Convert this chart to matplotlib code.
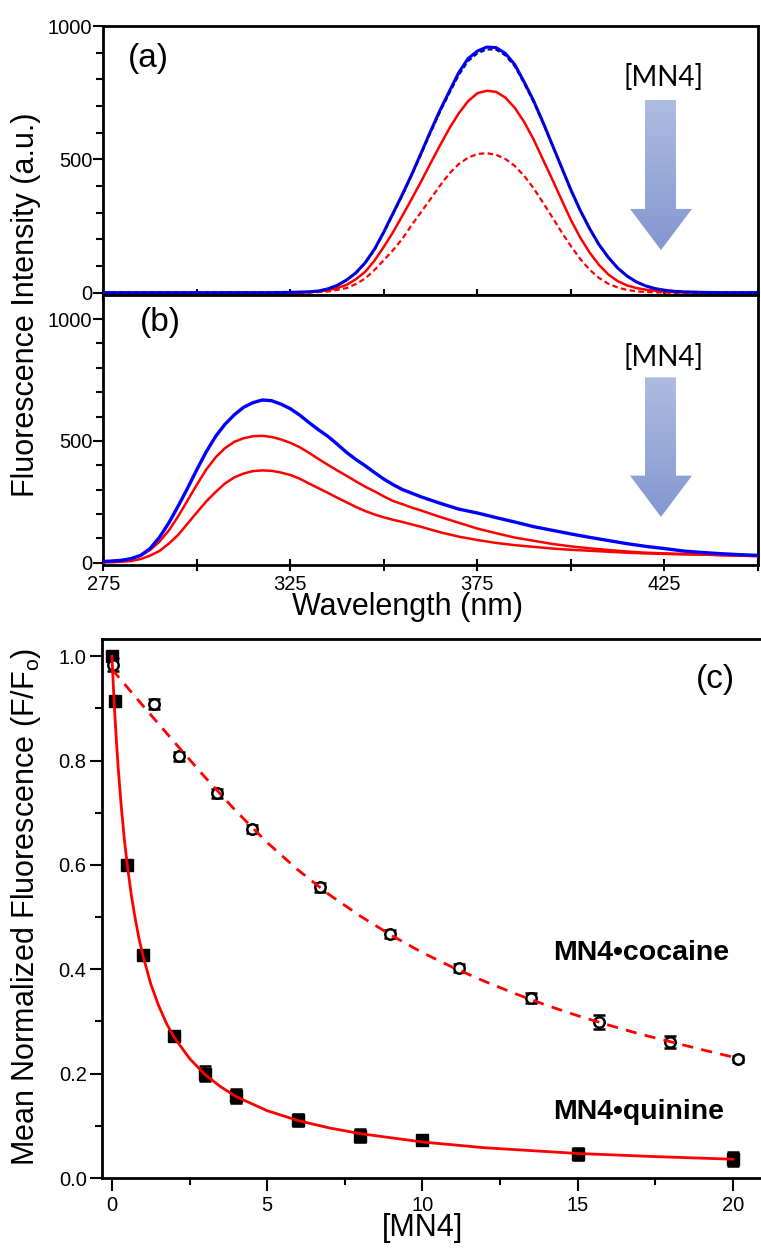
import numpy as np
import matplotlib
matplotlib.use("Agg")
import matplotlib.pyplot as plt
from matplotlib.patches import Polygon
from matplotlib.ticker import MultipleLocator, FixedLocator, NullFormatter

plt.rcParams["font.family"] = ["Liberation Sans", "DejaVu Sans"]
plt.rcParams["mathtext.fontset"] = "custom"
plt.rcParams["mathtext.rm"] = "Liberation Sans"

# (a) quinine emission spectra
wl_a = [275, 300, 320, 325, 327.5, 330, 332.5, 335, 337.5, 340, 342.5, 345, 347.5,
        350, 352.5, 355, 357.5, 360, 362.5, 365, 367.5, 370, 372.5, 375, 377.5, 380,
        382.5, 385, 387.5, 390, 392.5, 395, 397.5, 400, 402.5, 405, 407.5, 410,
        412.5, 415, 417.5, 420, 422.5, 425, 427.5, 430, 435, 440, 450]
quinine_free = [0, 0, 0, 1, 2, 3, 6, 14, 27, 47, 74, 112, 163,
                228, 299, 370, 445, 525, 606, 684, 755, 825, 878, 906, 921, 919,
                897, 855, 790, 720, 640, 555, 470, 385, 308, 240, 180, 132,
                92, 62, 40, 25, 15, 9, 5, 3, 1, 0, 0]
quinine_free2 = [0, 0, 0, 1, 2, 3, 6, 13, 26, 46, 72, 110, 160,
                 225, 296, 366, 441, 520, 600, 677, 747, 815, 868, 897, 912, 911,
                 889, 848, 784, 715, 636, 552, 468, 383, 307, 239, 179, 131,
                 92, 62, 40, 25, 15, 9, 5, 3, 1, 0, 0]
quinine_mid = [-3, -3, -3, -1, 0, 2, 4, 9, 17, 29, 50, 78, 120,
               172, 228, 290, 353, 418, 486, 552, 616, 672, 718, 748, 757, 753,
               731, 693, 640, 575, 500, 425, 348, 272, 206, 150, 104, 68,
               43, 27, 17, 11, 7, 4, 2, 1, 0, -1, -2]
quinine_high = [-3, -3, -3, -2, -1, 0, 2, 4, 10, 17, 32, 53, 85,
                122, 160, 203, 255, 303, 352, 401, 447, 482, 506, 520, 523, 517,
                501, 475, 438, 392, 338, 283, 227, 174, 126, 86, 55, 33,
                19, 10, 5, 2, 1, 0, -1, -1, -2, -2, -2]

# (b) cocaine emission spectra
wl_b = [275, 277.5, 280, 282.5, 285, 287.5, 290, 292.5, 295, 297.5, 300, 302.5, 305,
        307.5, 310, 312.5, 315, 317.5, 320, 322.5, 325, 327.5, 330, 332.5, 335,
        337.5, 340, 342.5, 345, 347.5, 350, 352.5, 355, 357.5, 360, 365, 370, 375,
        380, 385, 390, 395, 400, 405, 410, 415, 420, 425, 430, 435, 440, 445, 450]
cocaine_free = [5, 7, 10, 17, 30, 58, 104, 163, 232, 305, 382, 455, 518,
                568, 607, 638, 657, 668, 665, 651, 632, 606, 575, 546, 519,
                487, 453, 424, 398, 370, 343, 320, 300, 285, 270, 244, 220, 204,
                185, 167, 148, 133, 118, 104, 91, 78, 67, 58, 48, 42, 37, 33, 30]
cocaine_mid = [4, 6, 10, 17, 29, 52, 86, 132, 190, 255, 320, 382, 432,
               470, 496, 511, 519, 521, 516, 506, 492, 474, 451, 426, 402,
               379, 357, 334, 312, 293, 272, 253, 240, 226, 214, 188, 164, 140,
               121, 103, 90, 77, 67, 59, 52, 46, 41, 38, 36, 34, 31, 29, 27]
cocaine_high = [1, 2, 4, 7, 15, 29, 48, 78, 114, 160, 206, 251, 290,
                325, 350, 366, 376, 379, 377, 370, 360, 345, 325, 306, 287,
                267, 248, 229, 212, 198, 186, 176, 167, 157, 147, 125, 107, 93,
                81, 72, 65, 58, 53, 49, 45, 41, 38, 36, 34, 33, 31, 29, 27]

# (c) titrations
quin_x = [0, 0.1, 0.5, 1, 2, 3, 4, 6, 8, 10, 15, 20]
quin_y = [1.0, 0.915, 0.600, 0.428, 0.272, 0.200, 0.157, 0.111, 0.081, 0.073, 0.046, 0.036]
quin_err = [0.008, 0.008, 0.008, 0.008, 0.010, 0.015, 0.013, 0.012, 0.012, 0.008, 0.012, 0.013]
coc_x = [0.05, 1.355, 2.17, 3.39, 4.51, 6.69, 8.97, 11.17, 13.5, 15.69, 17.98, 20.18]
coc_y = [0.984, 0.908, 0.808, 0.737, 0.669, 0.557, 0.468, 0.402, 0.345, 0.299, 0.261, 0.228]
coc_err = [0.012, 0.010, 0.008, 0.008, 0.008, 0.008, 0.008, 0.008, 0.010, 0.014, 0.012, 0.006]

quin_fit_x = [0, 0.05, 0.1, 0.15, 0.2, 0.3, 0.4, 0.5, 0.625, 0.75, 0.875, 1, 1.25, 1.5,
              1.75, 2, 2.5, 3, 3.5, 4, 5, 6, 7, 8, 10, 12, 15, 17.5, 20]
quin_fit_y = [1.0, 0.937, 0.881, 0.832, 0.787, 0.712, 0.649, 0.597, 0.542, 0.497,
              0.458, 0.426, 0.372, 0.331, 0.297, 0.270, 0.229, 0.198, 0.175, 0.156,
              0.129, 0.110, 0.096, 0.085, 0.069, 0.058, 0.047, 0.041, 0.036]
coc_fit_x = [0, 1, 2, 3, 4, 5, 6, 7, 8, 9, 10, 11, 12, 13, 14, 15, 16, 17, 18, 19, 20.2]
coc_fit_y = [0.975, 0.905, 0.836, 0.768, 0.703, 0.643, 0.590, 0.543, 0.502, 0.465,
             0.432, 0.403, 0.377, 0.353, 0.331, 0.311, 0.293, 0.276, 0.261, 0.246, 0.229]

W, H = 761, 1249
fig = plt.figure(figsize=(W / 100, H / 100), dpi=100)


def frac_box(left, right, top, bottom):
    return [left / W, 1 - bottom / H, (right - left) / W, (bottom - top) / H]


ax_a = fig.add_axes(frac_box(103.3, 758, 26, 295))
ax_b = fig.add_axes(frac_box(103.3, 758, 295, 565))
ax_c = fig.add_axes(frac_box(102, 763, 639, 1178))

SPINE_W = 2.0
TICK_FS = 14.5


def style_spectrum_axes(ax, ylim):
    for s in ax.spines.values():
        s.set_linewidth(SPINE_W)
    ax.set_xlim(275, 450)
    ax.set_ylim(*ylim)
    ax.yaxis.set_major_locator(FixedLocator([0, 500, 1000]))
    ax.yaxis.set_minor_locator(MultipleLocator(100))
    ax.xaxis.set_major_locator(FixedLocator([275, 325, 375, 425]))
    ax.xaxis.set_minor_locator(FixedLocator([300, 350, 400, 450]))
    ax.tick_params(axis="y", which="major", direction="out", length=7, width=1.5,
                   labelsize=TICK_FS, pad=1)
    ax.tick_params(axis="y", which="minor", direction="out", length=5, width=1.5)
    ax.tick_params(axis="x", which="both", direction="inout", length=9, width=1.5,
                   labelsize=TICK_FS, pad=3)


def gradient_arrow(ax, x_l, x_r, hx_l, hx_r, tip_x, y_top, y_head, y_tip):
    verts = [(x_l, y_top), (x_r, y_top), (x_r, y_head), (hx_r, y_head), (tip_x, y_tip),
             (hx_l, y_head), (x_l, y_head)]
    patch = Polygon(verts, closed=True, transform=ax.transAxes, facecolor="none",
                    edgecolor="none")
    ax.add_patch(patch)
    grad = np.linspace(0, 1, 256).reshape(-1, 1)
    cmap = matplotlib.colors.LinearSegmentedColormap.from_list("arr", ["#aebce0", "#8398d1"])
    im = ax.imshow(grad, cmap=cmap, aspect="auto", transform=ax.transAxes,
                   extent=[hx_l, hx_r, y_tip, y_top], origin="upper", zorder=1)
    im.set_clip_path(patch)


# (a)
ax_a.plot(wl_a, quinine_free, color="#0000ff", lw=2.2, zorder=4)
ax_a.plot(wl_a, quinine_free2, color="#0000a8", lw=1.4, dashes=(2.5, 1.5), zorder=5)
ax_a.plot(wl_a, quinine_mid, color="#ff0000", lw=1.8, zorder=3)
ax_a.plot(wl_a, quinine_high, color="#ff0000", lw=1.6, dashes=(2.5, 1.5), zorder=3)
style_spectrum_axes(ax_a, (-9, 1000))
ax_a.xaxis.set_major_formatter(NullFormatter())
ax_a.text(0.038, 0.881, "(a)", transform=ax_a.transAxes, fontsize=24,
          ha="left", va="center")
gradient_arrow(ax_a, 0.8274, 0.8747, 0.8045, 0.8992, 0.8518, 0.725, 0.320, 0.167)
ax_a.text(0.855, 0.81, "[MN4]", transform=ax_a.transAxes, fontsize=20,
          family=["Lato", "DejaVu Sans"], ha="center", va="center")
ax_a.set_xlim(275, 450)
ax_a.set_ylim(-9, 1000)

# (b)
ax_b.plot(wl_b, cocaine_free, color="#0000ff", lw=2.4, zorder=4)
ax_b.plot(wl_b, cocaine_mid, color="#ff0000", lw=1.8, zorder=3)
ax_b.plot(wl_b, cocaine_high, color="#ff0000", lw=1.8, zorder=3)
style_spectrum_axes(ax_b, (-9.5, 1099))
ax_b.text(0.056, 0.90, "(b)", transform=ax_b.transAxes, fontsize=24,
          ha="left", va="center")
gradient_arrow(ax_b, 0.8274, 0.8747, 0.8045, 0.8992, 0.8518, 0.695, 0.331, 0.178)
ax_b.text(0.855, 0.77, "[MN4]", transform=ax_b.transAxes, fontsize=20,
          family=["Lato", "DejaVu Sans"], ha="center", va="center")
ax_b.set_xlim(275, 450)
ax_b.set_ylim(-9.5, 1099)

fig.text(26 / W, 1 - 305 / H, "Fluorescence Intensity (a.u.)", rotation=90,
         fontsize=22, ha="center", va="center")
fig.text(408 / W, 1 - 607 / H, "Wavelength (nm)", fontsize=22, ha="center", va="center")

# (c)
ax_c.errorbar(quin_x, quin_y, yerr=quin_err, fmt="s", color="black", ms=8.5,
              capsize=4.5, elinewidth=1.5, capthick=1.8, zorder=3)
ax_c.errorbar(coc_x, coc_y, yerr=coc_err, fmt="o", color="black", mfc="white",
              mec="black", mew=1.8, ms=7.5, capsize=4.5, elinewidth=1.5, capthick=1.8,
              zorder=3)
ax_c.plot(quin_fit_x, quin_fit_y, color="#ff0000", lw=2.0, zorder=4)
ax_c.plot(coc_fit_x, coc_fit_y, color="#ff0000", lw=2.0, dashes=(4, 3), zorder=4)

for s in ax_c.spines.values():
    s.set_linewidth(SPINE_W)
ax_c.set_xlim(-0.32, 20.97)
ax_c.set_ylim(0, 1.033)
ax_c.xaxis.set_major_locator(MultipleLocator(5))
ax_c.xaxis.set_minor_locator(MultipleLocator(2.5))
ax_c.yaxis.set_major_locator(MultipleLocator(0.2))
ax_c.yaxis.set_minor_locator(MultipleLocator(0.1))
ax_c.yaxis.set_major_formatter(matplotlib.ticker.FormatStrFormatter("%.1f"))
ax_c.tick_params(axis="both", which="major", direction="out", length=9, width=1.5,
                 labelsize=TICK_FS)
ax_c.tick_params(axis="both", which="minor", direction="out", length=5, width=1.5)
ax_c.tick_params(axis="y", which="major", pad=2)
ax_c.tick_params(axis="x", which="major", pad=4)

ax_c.text(0.899, 0.924, "(c)", transform=ax_c.transAxes, fontsize=24,
          ha="left", va="center")
ax_c.text(14.2, 0.431, "MN4\u2022cocaine", fontsize=20.5, fontweight="bold",
          ha="left", va="center")
ax_c.text(14.2, 0.127, "MN4\u2022quinine", fontsize=20.5, fontweight="bold",
          ha="left", va="center")

fig.text(26 / W, 1 - 907 / H, "Mean Normalized Fluorescence (F/F$_\\mathregular{o}$)",
         rotation=90, fontsize=22, ha="center", va="center")
fig.text(422 / W, 1 - 1228 / H, "[MN4]", fontsize=22, ha="center", va="center")

fig.savefig("out.png", dpi=100)
